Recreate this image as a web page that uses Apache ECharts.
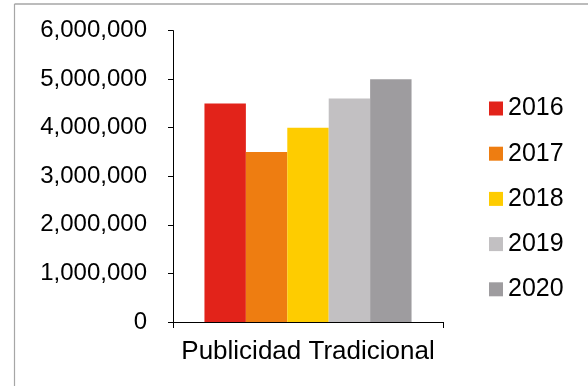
<!DOCTYPE html>
<html>
<head>
<meta charset="utf-8">
<script src="https://cdn.jsdelivr.net/npm/echarts@6/dist/echarts.min.js"></script>
<style>
html,body{margin:0;padding:0;background:#fff;}
#chart{width:588px;height:386px;}
</style>
</head>
<body>
<div id="chart"></div>
<script>
const categories = ['Publicidad Tradicional'];
const seriesNames = ['2016', '2017', '2018', '2019', '2020'];
const values2016 = [4500000];
const values2017 = [3500000];
const values2018 = [4000000];
const values2019 = [4600000];
const values2020 = [5000000];
const colors = ['#E2231A', '#EE7D11', '#FECC00', '#C2C0C2', '#9E9C9F'];

const seriesValues = [values2016, values2017, values2018, values2019, values2020];
const font = '"Liberation Sans", Arial, sans-serif';

const chart = echarts.init(document.getElementById('chart'), null, {renderer: 'canvas'});
chart.setOption({
  animation: false,
  backgroundColor: '#ffffff',
  textStyle: {fontFamily: font},
  graphic: [
    {type: 'line', silent: true, shape: {x1: 14.5, y1: 4, x2: 588, y2: 4}, style: {stroke: '#a6a6a6', lineWidth: 1.5}},
    {type: 'line', silent: true, shape: {x1: 14.5, y1: 4, x2: 14.5, y2: 386}, style: {stroke: '#a6a6a6', lineWidth: 1.2}}
  ],
  grid: {left: 173, right: 145, top: 30.6, bottom: 64, containLabel: false},
  legend: {
    orient: 'vertical',
    left: 484,
    top: 91,
    itemWidth: 14,
    itemHeight: 14,
    itemGap: 20.2,
    icon: 'rect',
    textStyle: {fontFamily: font, fontSize: 25, color: '#000', lineHeight: 24},
    data: seriesNames
  },
  xAxis: {
    type: 'category',
    data: categories,
    axisLine: {lineStyle: {color: '#000', width: 1}},
    axisTick: {show: true, length: 6, lineStyle: {color: '#000'}},
    axisLabel: {color: '#000', fontSize: 26, fontFamily: font, margin: 17}
  },
  yAxis: {
    type: 'value',
    min: 0,
    max: 6000000,
    interval: 1000000,
    splitLine: {show: false},
    axisLine: {show: true, lineStyle: {color: '#000', width: 1}},
    axisTick: {show: true, length: 5, lineStyle: {color: '#000'}},
    axisLabel: {
      color: '#000', fontSize: 24, fontFamily: font, margin: 26,
      formatter: v => v.toLocaleString('en-US')
    }
  },
  series: seriesNames.map((name, i) => ({
    name: name,
    type: 'bar',
    data: seriesValues[i],
    itemStyle: {color: colors[i]},
    barGap: '0%',
    barCategoryGap: '23.3%'
  }))
});
</script>
</body>
</html>
